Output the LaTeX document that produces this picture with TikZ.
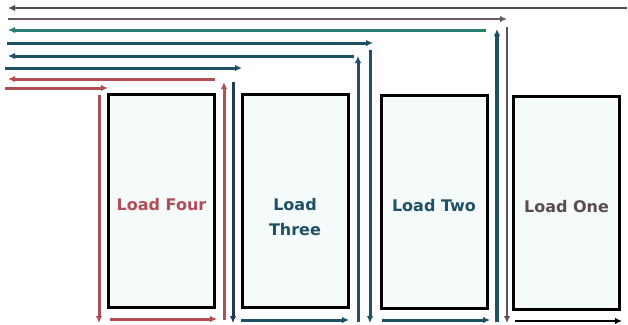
\documentclass[tikz,border=0pt]{standalone}
\usepackage{fontspec}
\setmainfont{DejaVu Sans}
\usetikzlibrary{arrows.meta}
\definecolor{cRed}{RGB}{178,78,86}
\definecolor{cTeal}{RGB}{30,80,102}
\definecolor{cGreen}{RGB}{40,128,112}
\definecolor{cGray}{RGB}{78,78,80}
\definecolor{cPink}{RGB}{105,88,98}
\definecolor{cBrown}{RGB}{98,80,88}
\definecolor{cNavy}{RGB}{36,56,92}
\definecolor{cOne}{RGB}{92,76,82}
\definecolor{cFill}{RGB}{245,250,250}
\tikzset{
  loadbox/.style={draw=black,line width=3pt,fill=cFill,minimum width=106pt,minimum height=213pt,inner sep=0pt},
  loadtext/.style={font=\bfseries\fontsize{16}{25}\selectfont,align=center,inner sep=0pt},
  tip/.style={-{Latex[length=7pt,width=6.5pt]}},
  wire/.style={line width=3pt},
}
\begin{document}
\begin{tikzpicture}[x=1pt,y=-1pt]
\useasboundingbox (0,0) rectangle (628,324);
% loads
\node[loadbox] (L4) at (161.5,201) {};
\node[loadbox] (L3) at (295,201) {};
\node[loadbox] (L2) at (434,202) {};
\node[loadbox] (L1) at (566.5,203) {};
\node[loadtext,text=cRed] (T4) at ([yshift=-4pt]L4.center) {Load Four};
\node[loadtext,text=cTeal] (T3) at ([yshift=-16pt]L3.center) {Load\\Three};
\node[loadtext,text=cTeal] (T2) at ([yshift=-4pt]L2.center) {Load Two};
\node[loadtext,text=cOne] (T1) at ([yshift=-4pt]L1.center) {Load One};
% coordinates
\coordinate (a1) at (627,8);   \coordinate (a2) at (8,8);
\coordinate (b1) at (8,19);    \coordinate (b2) at (507,19);
\coordinate (b3) at (507,27);  \coordinate (b4) at (507,323);
\coordinate (b5) at (515,321); \coordinate (b6) at (622,321);
\coordinate (c1) at (486,30);  \coordinate (c2) at (8,30);
\coordinate (c3) at (497,322); \coordinate (c4) at (497,29);
\coordinate (c5) at (382,320); \coordinate (c6) at (490,320);
\coordinate (d1) at (7,43);    \coordinate (d2) at (373,43);
\coordinate (d3) at (370,50);  \coordinate (d4) at (370,323);
\coordinate (e1) at (354,56);  \coordinate (e2) at (8,56);
\coordinate (e3) at (358,322); \coordinate (e4) at (358,56);
\coordinate (e5) at (241,320); \coordinate (e6) at (349,320);
\coordinate (f1) at (5,68);    \coordinate (f2) at (242,68);
\coordinate (f3) at (233,82);  \coordinate (f4) at (233,323);
\coordinate (g1) at (215,79);  \coordinate (g2) at (8,79);
\coordinate (g3) at (224,320); \coordinate (g4) at (224,82);
\coordinate (g5) at (110,319); \coordinate (g6) at (217,319);
\coordinate (h1) at (5,88);    \coordinate (h2) at (108,88);
\coordinate (h3) at (99,95);   \coordinate (h4) at (99,323);
% wires
\draw[tip,line width=2.2pt,cGray] (a1) -- (a2);
\draw[tip,line width=2.2pt,cPink] (b1) -- (b2);
\draw[tip,line width=2.4pt,cBrown] (b3) -- (b4);
\draw[tip,line width=2.2pt,black] (b5) -- (b6);
\draw[tip,wire,cGreen] (c1) -- (c2);
\draw[tip,line width=4.5pt,cTeal] (c3) -- (c4);
\draw[tip,wire,cTeal] (c5) -- (c6);
\draw[tip,wire,cTeal] (d1) -- (d2);
\draw[tip,wire,cTeal] (d3) -- (d4);
\draw[tip,wire,cTeal] (e1) -- (e2);
\draw[tip,wire,cTeal] (e3) -- (e4);
\draw[tip,wire,cTeal] (e5) -- (e6);
\draw[tip,wire,cTeal] (f1) -- (f2);
\draw[tip,wire,cNavy] (f3) -- (f4);
\draw[tip,wire,cRed] (g1) -- (g2);
\draw[tip,wire,cRed] (g3) -- (g4);
\draw[tip,wire,cRed] (g5) -- (g6);
\draw[tip,wire,cRed] (h1) -- (h2);
\draw[tip,wire,cRed] (h3) -- (h4);
\end{tikzpicture}
\end{document}
